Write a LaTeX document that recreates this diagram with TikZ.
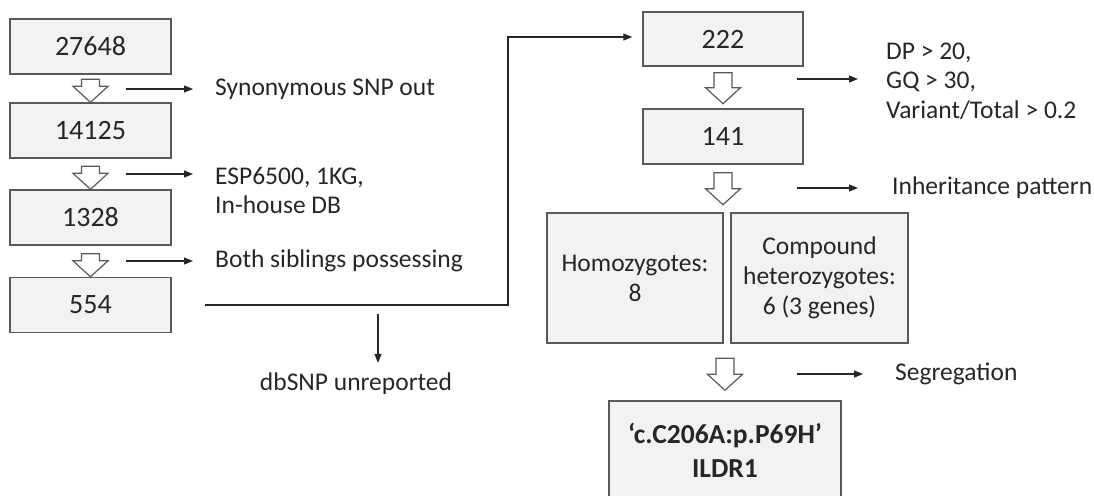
\documentclass[tikz,border=0pt]{standalone}
\usepackage{fontspec}
\setmainfont{Carlito}
\usetikzlibrary{arrows.meta,positioning}
\definecolor{boxfill}{HTML}{F2F2F2}
\definecolor{boxdraw}{HTML}{595959}
\definecolor{ink}{HTML}{262626}
\begin{document}
\begin{tikzpicture}[x=1pt,y=-1pt,
  box/.style={draw=boxdraw,fill=boxfill,line width=1.4pt,inner sep=0pt,
    text=ink,align=center,font=\fontsize{28}{34}\selectfont},
  count/.style={box,minimum width=161pt,minimum height=55pt},
  bigbox/.style={box,minimum width=176pt,minimum height=130pt,
    font=\fontsize{25.5}{30}\selectfont},
  note/.style={anchor=west,inner sep=0pt,text=ink,align=left,
    font=\fontsize{25.5}{29.5}\selectfont},
  link/.style={draw=ink,line width=1.2pt,-{Triangle[length=9pt,width=7pt]}},
  pics/blockarrow/.style={code={
    \draw[draw=boxdraw,fill=white,line width=1.2pt]
      (-9,0) -- (9,0) -- (9,#1) -- (17.5,#1) -- (0,#1+16)
      -- (-17.5,#1) -- (-9,#1) -- cycle;}}]
  \clip (0,0) rectangle (1094,495);

  % left column
  \node[count] (n27648) at (90.5,46.5) {27648};
  \node[count] (n14125) at (90.5,130.5) {14125};
  \node[count] (n1328) at (90.5,217.5) {1328};
  \node[count] (n554) at (90.5,305) {554};
  \pic at ([yshift=23pt]n14125.north) {blockarrow=7};
  \pic at ([yshift=23pt]n1328.north) {blockarrow=7};
  \pic at ([yshift=23pt]n554.north) {blockarrow=7};

  \node[note] (syn) at (215,89) {Synonymous SNP out};
  \node[note] (pop) at (215,190.5) {ESP6500, 1KG,\\In-house DB};
  \node[note] (sib) at (215,261) {Both siblings possessing};
  \coordinate (t1) at (126,89);
  \coordinate (t2) at (126,174);
  \coordinate (t3) at (126,261);
  \draw[link,shorten >=22pt] (t1) -- (t1 -| syn.west);
  \draw[link,shorten >=22pt] (t2) -- (t2 -| pop.west);
  \draw[link,shorten >=22pt] (t3) -- (t3 -| sib.west);

  % right column
  \node[count,minimum width=160pt,minimum height=54pt] (n222) at (723,39) {222};
  \node[count,minimum width=160pt] (n141) at (723,136.5) {141};
  \node[bigbox] (homo) at (635,278) {Homozygotes:\\8};
  \node[bigbox,minimum width=177pt] (compound) at (819.5,278) {Compound\\heterozygotes:\\6 (3 genes)};
  \node[box,minimum width=232pt,minimum height=99pt,
    font=\bfseries\fontsize{27.5}{34}\selectfont] (ildr1) at (725,450.5) {‘c.C206A:p.P69H’\\ILDR1};
  \pic at ([yshift=-6pt]n222.south) {blockarrow=15};
  \pic at ([yshift=-8pt]n141.south) {blockarrow=16};
  \pic at ([yshift=42pt]ildr1.north) {blockarrow=16};

  \node[note] (qual) at (886,81) {DP > 20,\\GQ > 30,\\Variant/Total > 0.2};
  \node[note] (inh) at (892,188) {Inheritance pattern};
  \node[note] (seg) at (895,374) {Segregation};
  \coordinate (t4) at (797,79);
  \coordinate (t5) at (797,188);
  \coordinate (t6) at (797,374);
  \draw[link,shorten >=28pt] (t4) -- (t4 -| qual.west);
  \draw[link,shorten >=34pt] (t5) -- (t5 -| inh.west);
  \draw[link,shorten >=32pt] (t6) -- (t6 -| seg.west);

  % jump to the second column
  \coordinate (bend) at (508,37);
  \draw[link,shorten >=10pt] ([xshift=33pt]n554.east) -| (bend) -- (bend -| n222.west);
  \node[note,anchor=center] (dbsnp) at (356,384) {dbSNP unreported};
  \coordinate (t7) at (378,314);
  \draw[link,shorten >=10pt] (t7) -- (t7 |- dbsnp.north);
\end{tikzpicture}
\end{document}
